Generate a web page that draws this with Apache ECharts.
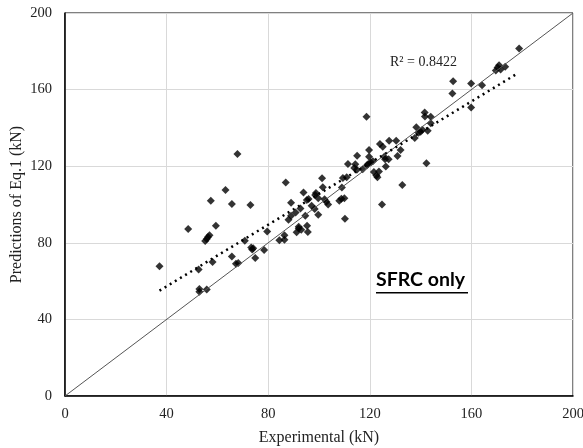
<!DOCTYPE html>
<html>
<head>
<meta charset="utf-8">
<script src="https://cdn.jsdelivr.net/npm/echarts@6/dist/echarts.min.js"></script>
<style>
html, body { margin: 0; padding: 0; background: #fff; }
#chart { width: 583px; height: 448px; }
</style>
</head>
<body>
<div id="chart"></div>
<script>
// experimental (kN) vs predicted by Eq.1 (kN)
var expX = [37.2, 48.5, 52.6, 52.9, 52.9, 55.8, 55.2, 55.8, 56.3, 56.9, 57.4, 58.1, 59.4,
    63.2, 65.7, 65.7, 67.9, 67.3, 68.2, 70.8, 73.0, 73.3, 73.7, 74.1, 74.9, 78.4, 79.6,
    84.4, 86.4, 86.4, 86.9, 88.0, 89.0, 89.0, 90.8, 91.2, 92.0, 92.0, 92.7, 93.0, 93.9,
    94.6, 95.2, 95.9, 95.3, 95.6, 97.1, 98.3, 98.8, 98.5, 99.7, 99.7, 101.2, 101.5, 102.2,
    102.9, 103.6, 108.0, 108.8, 109.0, 109.4, 110.9, 110.0, 110.2, 111.4, 113.9, 114.3, 114.9,
    115.0, 117.2, 118.7, 118.9, 119.4, 119.7, 119.7, 120.4, 121.2, 121.6, 122.6, 123.6, 123.0,
    124.0, 125.1, 125.7, 124.8, 126.3, 126.0, 127.4, 127.6, 130.4, 130.9, 132.1, 132.8,
    137.7, 138.3, 139.2, 140.0, 140.7, 141.6, 141.7, 142.3, 142.8, 144.0, 144.0, 152.5,
    152.8, 159.9, 159.9, 164.2, 169.6, 170.3, 170.9, 171.5, 173.3, 178.8];
var predY = [67.7, 87.2, 66.0, 55.9, 54.5, 55.6, 81.0, 82.0, 83.0, 84.0, 102.0, 70.0, 88.9,
    107.6, 100.3, 72.9, 126.4, 69.0, 69.5, 81.1, 99.7, 77.5, 76.5, 77.2, 72.0, 76.2, 85.9,
    81.3, 83.9, 81.6, 111.5, 92.0, 100.9, 94.1, 95.8, 85.5, 87.5, 88.4, 97.9, 86.8, 106.3,
    94.1, 102.3, 102.9, 88.9, 85.6, 99.3, 97.6, 106.0, 105.0, 103.3, 94.6, 113.7, 109.0, 102.8,
    101.4, 100.0, 102.0, 103.0, 108.9, 113.9, 114.2, 103.3, 92.5, 121.2, 119.0, 121.0, 118.2,
    125.5, 118.4, 145.8, 120.5, 121.2, 128.5, 125.0, 121.9, 122.6, 117.0, 115.2, 117.2, 114.2,
    131.6, 130.2, 125.0, 100.0, 119.8, 123.6, 123.6, 133.3, 133.3, 125.3, 128.5, 110.2,
    134.7, 140.3, 137.5, 138.0, 139.0, 148.0, 146.0, 121.5, 138.5, 145.8, 142.4, 158.0,
    164.4, 163.2, 150.7, 162.3, 170.0, 171.5, 172.7, 170.5, 171.9, 181.4];
var lineOfEquality = [[0, 0], [200, 200]];
var trendEnds = [[37.2, 55.0], [178.5, 168.7]];
var tickVals = [0, 40, 80, 120, 160, 200];

var points = expX.map(function (x, i) { return [x, predY[i]]; });

var chart = echarts.init(document.getElementById('chart'));
var serif = '"Liberation Serif", "Times New Roman", serif';

chart.setOption({
    animation: false,
    grid: {
        left: 65,
        right: 10,
        top: 13,
        bottom: 52,
        outerBoundsMode: 'none',
        containLabel: false,
        show: true,
        borderColor: '#000',
        borderWidth: 1
    },
    xAxis: {
        type: 'value',
        min: tickVals[0],
        max: tickVals[tickVals.length - 1],
        interval: 40,
        name: 'Experimental (kN)',
        nameLocation: 'middle',
        nameGap: 34,
        nameMoveOverlap: false,
        nameTextStyle: { fontFamily: serif, fontSize: 16, color: '#222' },
        axisLine: { show: true, lineStyle: { color: '#000', width: 1.5 } },
        axisTick: { show: false },
        axisLabel: { fontFamily: serif, fontSize: 14.5, color: '#222', margin: 11 },
        splitLine: { lineStyle: { color: '#d9d9d9', width: 1 } }
    },
    yAxis: {
        type: 'value',
        min: tickVals[0],
        max: tickVals[tickVals.length - 1],
        interval: 40,
        name: 'Predictions of Eq.1 (kN)',
        nameLocation: 'middle',
        nameGap: 40,
        nameMoveOverlap: false,
        nameTextStyle: { fontFamily: serif, fontSize: 16, color: '#222' },
        axisLine: { show: true, lineStyle: { color: '#000', width: 1.5 } },
        axisTick: { show: false },
        axisLabel: { fontFamily: serif, fontSize: 14.5, color: '#222', margin: 13 },
        splitLine: { lineStyle: { color: '#d9d9d9', width: 1 } }
    },
    series: [
        {
            type: 'line',
            data: lineOfEquality,
            symbol: 'none',
            silent: true,
            lineStyle: { color: '#555', width: 1 }
        },
        {
            type: 'line',
            data: trendEnds,
            symbol: 'none',
            silent: true,
            lineStyle: { color: '#000', width: 2.5, type: [2, 4] }
        },
        {
            type: 'scatter',
            data: points,
            symbol: 'diamond',
            symbolSize: 8,
            itemStyle: { color: '#000' }
        }
    ],
    graphic: [
        {
            type: 'text',
            left: 390,
            top: 55,
            style: { text: 'R\u00b2 = 0.8422', font: '14px ' + serif, fill: '#222' }
        },
        {
            type: 'text',
            left: 376,
            top: 270,
            style: { text: 'SFRC only', font: 'bold 19.5px Lato, "Open Sans", sans-serif', fill: '#000' }
        },
        {
            type: 'rect',
            left: 376,
            top: 292,
            shape: { width: 92, height: 1.5 },
            style: { fill: '#000' }
        }
    ]
});
</script>
</body>
</html>
